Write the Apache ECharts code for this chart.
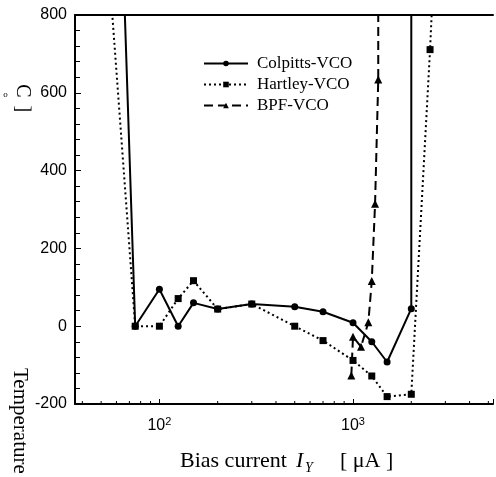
<!DOCTYPE html>
<html><head><meta charset="utf-8">
<script src="https://cdn.jsdelivr.net/npm/echarts@6/dist/echarts.min.js"></script>
<style>html,body{margin:0;padding:0;background:#fff}#c{width:496px;height:477px}</style>
</head><body><div id="c"></div>
<script>
// ---- data ----
const seriesNames = ['Colpitts-VCO', 'Hartley-VCO', 'BPF-VCO'];
const colpittsX = [60, 75, 100, 125, 150, 200, 300, 500, 700, 1000, 1250, 1500, 2000, 2000];
const colpittsY = [1450, 0, 95, 0, 60, 44, 57, 50, 37, 9, -40, -92, 45, 1500];
const hartleyX = [50, 75, 100, 125, 150, 200, 300, 500, 700, 1000, 1250, 1500, 2000, 2500, 3000];
const hartleyY = [1190, 0, 0, 71, 117, 44, 57, 0, -37, -88, -128, -181, -175, 711, 1575];
const bpfX = [980, 1000, 1100, 1200, 1250, 1300, 1350, 1350];
const bpfY = [-127, -27, -53, 10, 116, 315, 634, 1500];
const xMajorTicks = [100, 1000];
const xMinorTicks = [40, 50, 60, 70, 80, 90, 200, 300, 400, 500, 600, 700, 800, 900, 2000, 3000, 4000, 5000];
const yTickLabels = [-200, 0, 200, 400, 600, 800];

function pairs(xs, ys) { return xs.map((x, i) => [x, ys[i]]); }

const SERIF = '"Liberation Serif", "Times New Roman", serif';
const SANS = '"Liberation Sans", Arial, sans-serif';
const X_MIN = 36.65, X_MAX = 5285;
const Y_MIN = yTickLabels[0], Y_MAX = yTickLabels[yTickLabels.length - 1];

const chart = echarts.init(document.getElementById('c'), null, { renderer: 'canvas' });
const option = {
  animation: false,
  backgroundColor: '#fff',
  grid: { left: 75, top: 15, width: 421, height: 389, containLabel: false },
  legend: {
    data: seriesNames,
    orient: 'vertical',
    left: 203, top: 55, padding: 0,
    itemWidth: 44, itemHeight: 7, itemGap: 4,
    textStyle: { fontFamily: SERIF, fontSize: 17, color: '#000', padding: [0, 0, 0, 4] }
  },
  xAxis: [{
    type: 'log', logBase: 10, min: X_MIN, max: X_MAX,
    position: 'bottom',
    axisLine: { show: true, onZero: false, lineStyle: { color: '#000', width: 2 } },
    axisTick: { show: true, inside: true, length: 5, lineStyle: { color: '#000', width: 1 } },
    splitLine: { show: false },
    axisLabel: {
      color: '#000', fontFamily: SANS, fontSize: 16, margin: 12,
      formatter: function (v) {
        const l = Math.log10(v), r = Math.round(l);
        if (Math.abs(l - r) < 1e-6 && xMajorTicks.indexOf(Math.round(Math.pow(10, r))) >= 0) return '10{sup|' + r + '}';
        return '';
      },
      rich: { sup: { fontFamily: SANS, fontSize: 11, color: '#000', verticalAlign: 'top', padding: [0, 0, 8, 0] } }
    }
  }, {
    type: 'log', logBase: 10, min: X_MIN, max: X_MAX, position: 'top',
    axisLine: { show: true, onZero: false, lineStyle: { color: '#000', width: 2 } },
    axisTick: { show: false }, axisLabel: { show: false }, splitLine: { show: false }
  }],
  yAxis: {
    type: 'value', min: Y_MIN, max: Y_MAX, interval: 200,
    axisLine: { show: true, onZero: false, lineStyle: { color: '#000', width: 2 } },
    axisTick: { show: true, inside: true, length: 6, lineStyle: { color: '#000', width: 1 } },
    minorTick: { show: true, splitNumber: 5, length: 5, lineStyle: { color: '#000', width: 1 } },
    splitLine: { show: false },
    axisLabel: { color: '#000', fontFamily: SANS, fontSize: 16, margin: 8 }
  },
  series: [
    {
      name: seriesNames[0], type: 'line', data: pairs(colpittsX, colpittsY), clip: true,
      symbol: 'circle', symbolSize: 7, showAllSymbol: true,
      lineStyle: { color: '#000', width: 2, type: 'solid' }, itemStyle: { color: '#000' }, z: 4
    },
    {
      name: seriesNames[1], type: 'line', data: pairs(hartleyX, hartleyY), clip: true,
      symbol: 'rect', symbolSize: 7, showAllSymbol: true,
      lineStyle: { color: '#000', width: 2, type: [2, 3] }, itemStyle: { color: '#000' }, z: 3
    },
    {
      name: seriesNames[2], type: 'line', data: pairs(bpfX, bpfY), clip: true,
      symbol: 'triangle', symbolSize: 8, showAllSymbol: true,
      lineStyle: { color: '#000', width: 2, type: [9, 5] }, itemStyle: { color: '#000' }, z: 3
    },
    {
      type: 'custom', silent: true, clip: false,
      data: xMinorTicks.map(v => [v, Y_MIN]),
      encode: { x: 0, y: 1 },
      renderItem: function (params, api) {
        const p = api.coord([api.value(0), api.value(1)]);
        return { type: 'line', shape: { x1: p[0], y1: p[1], x2: p[0], y2: p[1] - 3 },
                 style: { stroke: '#000', lineWidth: 1 } };
      }
    }
  ],
  graphic: [
    { type: 'text', x: 180, y: 461, style: { text: 'Bias current', font: '22px ' + SERIF, fill: '#000', textVerticalAlign: 'middle' } },
    { type: 'text', x: 296, y: 461, style: { text: 'I', font: 'italic 22px ' + SERIF, fill: '#000', textVerticalAlign: 'middle' } },
    { type: 'text', x: 305, y: 468, style: { text: 'Y', font: 'italic 14px ' + SERIF, fill: '#000', textVerticalAlign: 'middle' } },
    { type: 'text', x: 340, y: 461, style: { text: '[ μA ]', font: '22px ' + SERIF, fill: '#000', textVerticalAlign: 'middle' } },
    { type: 'text', x: 20, y: 368, rotation: -Math.PI / 2, style: { text: 'Temperature', font: '21px ' + SERIF, fill: '#000', textVerticalAlign: 'middle' } },
    { type: 'text', x: 22, y: 91, rotation: -Math.PI / 2, style: { text: 'C', font: '20px ' + SERIF, fill: '#000', textAlign: 'center', textVerticalAlign: 'middle' } },
    { type: 'text', x: 5.5, y: 95, style: { text: 'o', font: '9px ' + SERIF, fill: '#000', textAlign: 'center', textVerticalAlign: 'middle' } },
    { type: 'text', x: 23, y: 109, rotation: Math.PI / 2, style: { text: '[', font: '20px ' + SERIF, fill: '#000', textAlign: 'center', textVerticalAlign: 'middle' } }
  ]
};
chart.setOption(option);
</script>
</body></html>
